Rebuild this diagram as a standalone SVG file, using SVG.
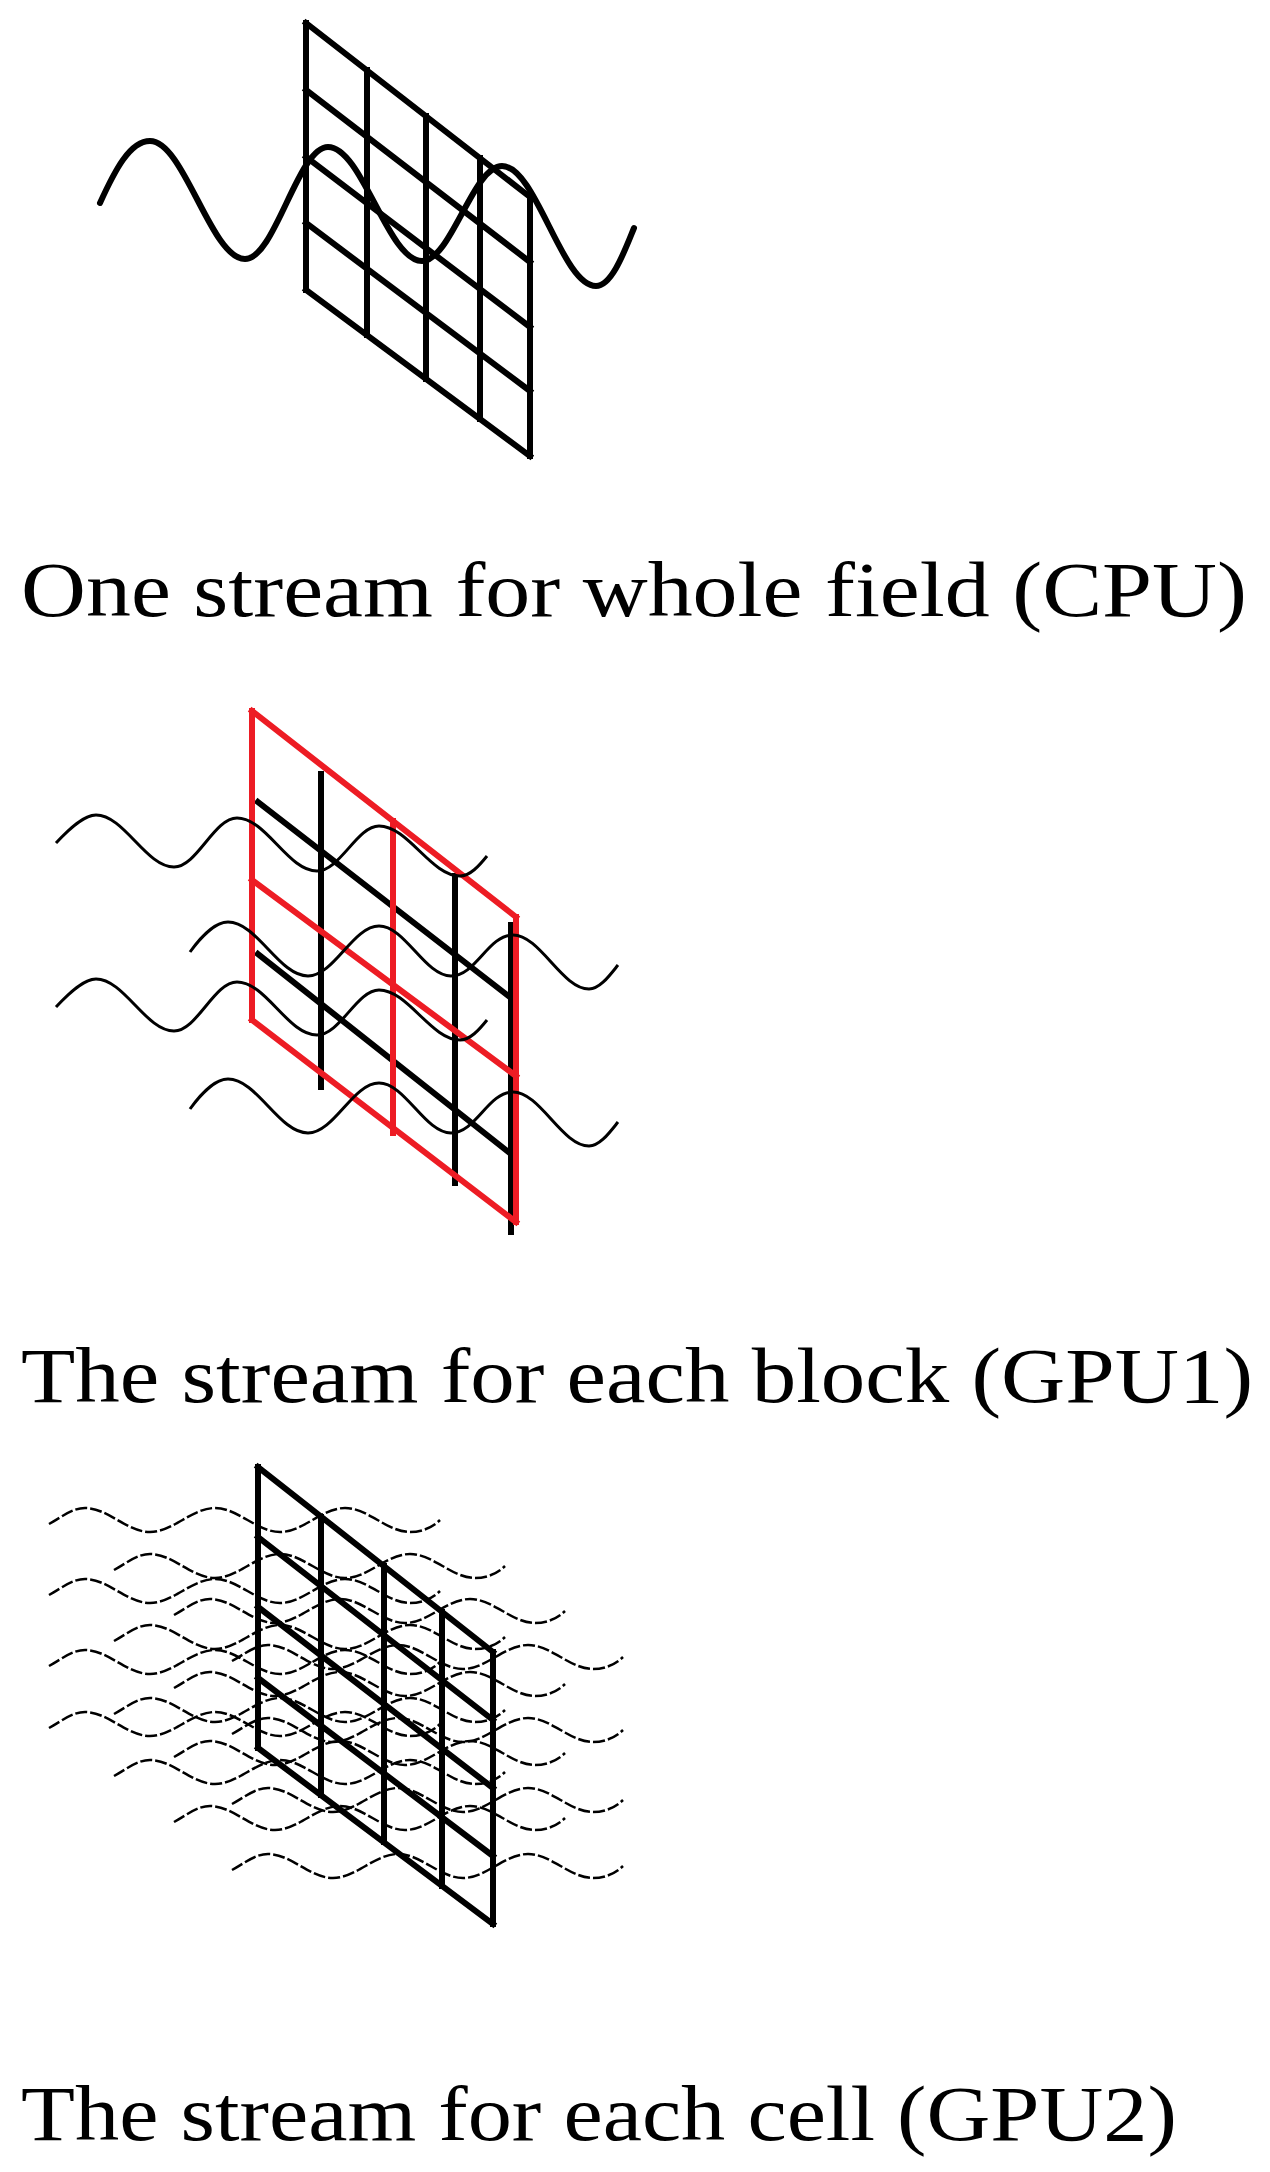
<svg xmlns="http://www.w3.org/2000/svg" xmlns:xlink="http://www.w3.org/1999/xlink" width="1270" height="2172" viewBox="0 0 1270 2172">
<style>
.g{fill:none;stroke:#000;stroke-width:6;stroke-linecap:square}
.r{fill:none;stroke:#ed1c24;stroke-width:6;stroke-linecap:square}
.w1{fill:none;stroke:#000;stroke-width:6;stroke-linecap:round}
.w2{fill:none;stroke:#000;stroke-width:3}
.w3{fill:none;stroke:#000;stroke-width:2.5;stroke-dasharray:12 3}
.t{font-family:"Liberation Serif","DejaVu Serif",serif;font-size:78px;fill:#000}
</style>
<defs>
<path id="sw" d="M0,4 C14,-4 24,-12 36,-12 C59,-12 78,12 101,12 C124,12 143,-12 166,-12 C189,-12 208,12 231,12 C254,12 273,-12 296,-12 C319,-12 338,12 361,12 C375,12 385,6 391,0"/>
<path id="wa" d="M56,843 C70,828 84,815 96,815 C124,815 146,867 174,867 C197,867 214,818 237,818 C266,818 288,871 317,871 C340,871 357,826 379,826 C408,826 431,876 460,876 C470,876 479,866 487,856"/>
<path id="wb" d="M190,952 C200,938 215,922 228,922 C257,922 279,976 308,976 C334,976 353,926 379,926 C405,926 425,976 451,976 C476,976 488,935 513,935 C540,935 562,989 589,989 C600,989 610,975 618,965"/>
</defs>
<g id="panel-cpu">
<path class="g" d="M306,23V290 M367,70V335 M426,116V379 M480,158V419 M530,197V456 M306,23L530,197 M306,90L530,262 M306,157L530,327 M306,223L530,391 M306,290L530,456"/>
<path class="w1" d="M100,203 C115,170 130,141 150,141 C184,141 211,259 245,259 C275,259 298,147 328,147 C362,147 388,261 422,261 C451,261 473,166 502,166 C536,166 562,286 596,286 C612,286 625,250 634,228"/>
<text class="t" x="21" y="616" textLength="1226" lengthAdjust="spacingAndGlyphs">One stream for whole field (CPU)</text>
</g>
<g id="panel-gpu1">
<path class="g" d="M321,774V1087 M455,876V1183 M511,925V1232 M258,802L511,998 M258,954L511,1154"/>
<path class="r" d="M252,711V1020 M393,821V1133 M516,917V1222 M252,711L516,917 M252,880L516,1076 M252,1020L516,1222"/>
<use href="#wa" class="w2"/>
<use href="#wa" class="w2" transform="translate(0,164)"/>
<use href="#wb" class="w2"/>
<use href="#wb" class="w2" transform="translate(0,157)"/>
<text class="t" x="21" y="1402" textLength="1232" lengthAdjust="spacingAndGlyphs">The stream for each block (GPU1)</text>
</g>
<g id="panel-gpu2">
<g class="w3">
<use href="#sw" transform="translate(49,1520)"/>
<use href="#sw" transform="translate(49,1591)"/>
<use href="#sw" transform="translate(49,1662)"/>
<use href="#sw" transform="translate(49,1724)"/>
<use href="#sw" transform="translate(114,1566)"/>
<use href="#sw" transform="translate(114,1637)"/>
<use href="#sw" transform="translate(114,1710)"/>
<use href="#sw" transform="translate(114,1772)"/>
<use href="#sw" transform="translate(174,1611)"/>
<use href="#sw" transform="translate(174,1684)"/>
<use href="#sw" transform="translate(174,1753)"/>
<use href="#sw" transform="translate(174,1818)"/>
<use href="#sw" transform="translate(232,1657)"/>
<use href="#sw" transform="translate(232,1730)"/>
<use href="#sw" transform="translate(232,1800)"/>
<use href="#sw" transform="translate(232,1866)"/>
</g>
<path class="g" d="M258,1467V1748 M321,1517V1795 M384,1566V1842 M442,1612V1886 M493,1652V1924 M258,1467L493,1652 M258,1537L493,1720 M258,1607L493,1788 M258,1678L493,1856 M258,1748L493,1924"/>
<text class="t" x="21" y="2140" textLength="1156" lengthAdjust="spacingAndGlyphs">The stream for each cell (GPU2)</text>
</g>
</svg>
